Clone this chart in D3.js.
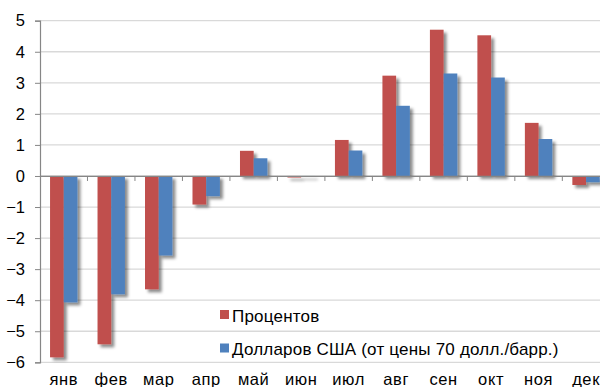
<!DOCTYPE html>
<html><head><meta charset="utf-8">
<script src="https://cdn.jsdelivr.net/npm/d3@7"></script>
<style>body{margin:0;background:#fff;} svg{display:block;}</style>
</head><body>
<svg id="c" width="600" height="387"></svg>
<script>
const categories = ["янв","фев","мар","апр","май","июн","июл","авг","сен","окт","ноя","дек"];
const percentValues = [-5.84,-5.42,-3.65,-0.92,0.81,-0.05,1.16,3.23,4.71,4.53,1.71,-0.29];
const dollarValues = [-4.07,-3.81,-2.56,-0.65,0.57,-0.03,0.82,2.26,3.30,3.17,1.19,-0.20];
const yTicks = [5,4,3,2,1,0,-1,-2,-3,-4,-5,-6];
const seriesNames = ["Процентов","Долларов США (от цены 70 долл./барр.)"];
const colors = ["#C0504D","#4F81BD"];

const svg = d3.select("#c");
const font = "'Liberation Sans', Arial, sans-serif";
const defs = svg.append("defs");
const f = defs.append("filter").attr("id","sh").attr("x","-30%").attr("y","-30%").attr("width","180%").attr("height","180%");
f.append("feDropShadow").attr("dx",3).attr("dy",3).attr("stdDeviation",1.6).attr("flood-color","#000").attr("flood-opacity",0.45);

const x = d3.scaleBand().domain(categories).range([40, 609.8]);
const y = d3.scaleLinear().domain([-6,5]).range([362.3, 20.7]);

// gridlines
svg.append("g").selectAll("line").data(yTicks).join("line")
  .attr("x1",40).attr("x2",600).attr("y1",d=>y(d)).attr("y2",d=>y(d))
  .attr("stroke","#d9d9d9").attr("stroke-width",1.3);

// y axis
const yAxis = d3.axisLeft(y).tickValues(yTicks).tickSize(5).tickPadding(10).tickFormat(d3.format("d"));
const ya = svg.append("g").attr("transform","translate(40,0)").call(yAxis);
ya.select(".domain").attr("stroke","#868686").attr("stroke-width",1.2);
ya.selectAll(".tick line").attr("stroke","#868686");
ya.selectAll("text").attr("font-family",font).attr("font-size",16.5).attr("fill","#000");

// bars
const inner = d3.scaleBand().domain([0,1]).range([0, x.bandwidth()]).paddingInner(0).paddingOuter(0.733);
const series = [percentValues, dollarValues];
series.forEach((vals, si) => {
  svg.append("g").attr("filter","url(#sh)").selectAll("rect").data(vals).join("rect")
    .attr("x",(d,i)=>x(categories[i]) + inner(si))
    .attr("width", inner.bandwidth())
    .attr("y", d=>Math.min(y(d), y(0)))
    .attr("height", d=>Math.max(Math.abs(y(d)-y(0)), 0.8))
    .attr("fill", colors[si]);
});

// x axis at zero
const xAxis = d3.axisBottom(x).tickSize(0).tickFormat(()=>"");
const xa = svg.append("g").attr("transform",`translate(0,${y(0)})`).call(xAxis);
xa.select(".domain").attr("stroke","#868686").attr("stroke-width",1.2);
// category boundary ticks
svg.append("g").selectAll("line").data(categories.slice(1)).join("line")
  .attr("x1",d=>x(d)).attr("x2",d=>x(d)).attr("y1",y(0)).attr("y2",y(0)+5)
  .attr("stroke","#868686").attr("stroke-width",1);

// x labels at bottom
svg.append("g").selectAll("text").data(categories).join("text")
  .attr("x",d=>x(d)+x.bandwidth()/2).attr("y",385)
  .attr("text-anchor","middle").attr("font-family",font).attr("font-size",16.5)
  .attr("letter-spacing",0.6).attr("fill","#000")
  .text(d=>d);

// legend
const lg = svg.append("g");
seriesNames.forEach((n,i)=>{
  const yy = 310 + i*33.5;
  lg.append("rect").attr("x",220).attr("y",yy).attr("width",9).attr("height",9).attr("fill",colors[i]);
  lg.append("text").attr("x",232).attr("y",yy+11.5).attr("font-family",font).attr("font-size",17)
    .attr("letter-spacing",0.2).attr("fill","#000").text(n);
});
</script>
</body></html>
